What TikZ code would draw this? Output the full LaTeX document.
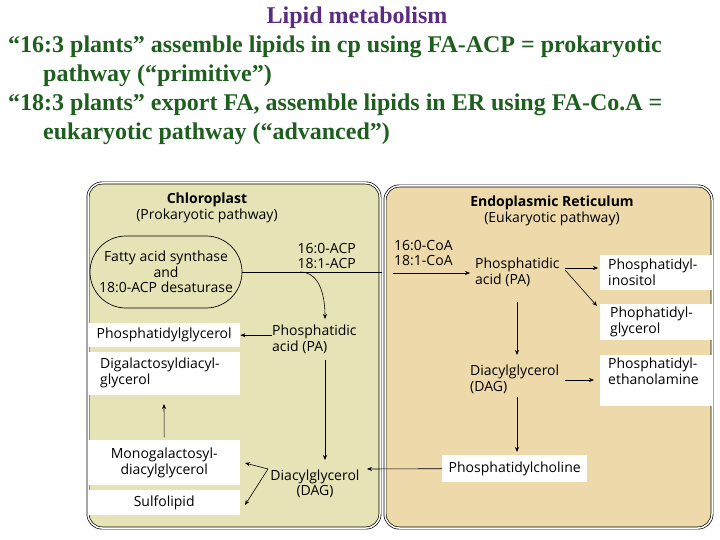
\documentclass[tikz,border=0pt]{standalone}
\usepackage{fontspec}
\setmainfont{Liberation Serif}
\newfontfamily\dia{Open Sans}
\usetikzlibrary{arrows.meta,shapes.misc}
\definecolor{chl}{HTML}{E6E4B6}
\definecolor{er}{HTML}{EDD9AA}
\definecolor{ttl}{HTML}{5B2C83}
\definecolor{grn}{HTML}{1E5E1E}
\begin{document}
\begin{tikzpicture}[x=1pt,y=-1pt,
  lab/.style={font=\dia\fontsize{14}{15.5}\selectfont,align=left,inner sep=0pt},
  labc/.style={lab,align=center},
  wbox/.style={fill=white,draw=none,anchor=north west,inner sep=0pt},
  arr/.style={-{Stealth[length=5pt,width=4pt]},line width=0.6pt},
  cell/.style={double,double distance=1.5pt,line width=0.7pt,rounded corners=14pt}]
\useasboundingbox (0,0) rectangle (720,540);
% title
\node[text=ttl,font=\bfseries\fontsize{24}{26}\selectfont] (t0) at (357,18) {Lipid metabolism};
\begin{scope}[every node/.style={text=grn,font=\bfseries\fontsize{24}{26}\selectfont,anchor=west,inner sep=0pt}]
\node (t1) at (8,47) {“16:3 plants” assemble lipids in cp using FA-ACP = prokaryotic};
\node (t2) at (43,76) {pathway (“primitive”)};
\node (t3) at (8,105) {“18:3 plants” export FA, assemble lipids in ER using FA-Co.A =};
\node (t4) at (43,134) {eukaryotic pathway (“advanced”)};
\end{scope}
% compartments
\draw[cell,fill=chl] (88,183) rectangle (380,528);
\draw[cell,fill=er] (385,186) rectangle (712,528);
% chloroplast
\node[labc] (ct) at (207,208) {\textbf{Chloroplast}\\(Prokaryotic pathway)};
\node[labc,draw,rounded rectangle,minimum width=156pt,minimum height=72pt,inner xsep=2pt,line width=0.7pt,fill=chl] (fas) at (166,272) {Fatty acid synthase\\and\\18:0-ACP desaturase};
\node[lab,align=right,anchor=east] (acp) at (356,256) {16:0-ACP\\18:1-ACP};
\coordinate (jr) at (382,272);
\coordinate (jc) at (300,272);
\node[wbox,minimum width=152pt,minimum height=24pt] (pgb) at (88,323) {};
\node[lab] (pg) at (pgb) {Phosphatidylglycerol};
\node[wbox,minimum width=152pt,minimum height=43pt] (dgb) at (88,352) {};
\node[lab,anchor=west] (dg) at (100,373) {Digalactosyldiacyl-\\glycerol};
\node[wbox,minimum width=152pt,minimum height=45pt] (mgb) at (88,440) {};
\node[labc] (mg) at (mgb) {Monogalactosyl-\\diacylglycerol};
\node[wbox,minimum width=152pt,minimum height=25pt] (sqb) at (88,490) {};
\node[lab] (sq) at (sqb) {Sulfolipid};
\node[lab,anchor=north west] (cpa) at (272,325) {Phosphatidic\\acid (PA)};
\node[labc] (cdag) at (315,484) {Diacylglycerol\\(DAG)};
\draw[line width=0.6pt] (fas.east|-jr) -- (jr);
\draw[arr] (jc) to[out=0,in=90] (325,319);
\draw[arr] (cpa.west|-pg) -- (pgb.east);
\draw[arr] (mgb.north) ++(0,-3) -- (164,404);
\draw[arr] (325,360) -- (325,460);
\coordinate (piv) at (268,469);
\draw[arr] (piv) -- (245,463);
\draw[arr] (piv) -- (245,505);
% ER
\node[labc] (et) at (552,211) {\textbf{Endoplasmic Reticulum}\\(Eukaryotic pathway)};
\node[lab,anchor=north west] (coa) at (394,240) {16:0-CoA\\18:1-CoA};
\node[lab,anchor=north west] (epa) at (475,258) {Phosphatidic\\acid (PA)};
\node[wbox,minimum width=112pt,minimum height=35pt] (pib) at (600,255) {};
\node[lab,anchor=west] (pi) at (608,272) {Phosphatidyl-\\inositol};
\node[wbox,minimum width=112pt,minimum height=36pt] (epgb) at (600,304) {};
\node[lab,anchor=west] (epg) at (610,322) {Phophatidyl-\\glycerol};
\node[wbox,minimum width=112pt,minimum height=51pt] (peb) at (600,355) {};
\node[lab,anchor=north west] (pe) at (608,358) {Phosphatidyl-\\ethanolamine};
\node[lab,anchor=north west] (edag) at (470,365) {Diacylglycerol\\(DAG)};
\node[wbox,minimum width=145pt,minimum height=27pt] (pcb) at (442,455) {};
\node[lab] (pc) at (pcb) {Phosphatidylcholine};
\draw[arr] (393,273) -- (470,273);
\draw[arr] (565,268) -- (598,268);
\draw[arr] (565,270) -- (597,306);
\draw[arr] (517,302) -- (517,355);
\draw[arr] (565,380) -- (594,380);
\draw[arr] (517,397) -- (517,452);
\draw[arr] (pcb.west) -- (367,469);
\end{tikzpicture}
\end{document}
